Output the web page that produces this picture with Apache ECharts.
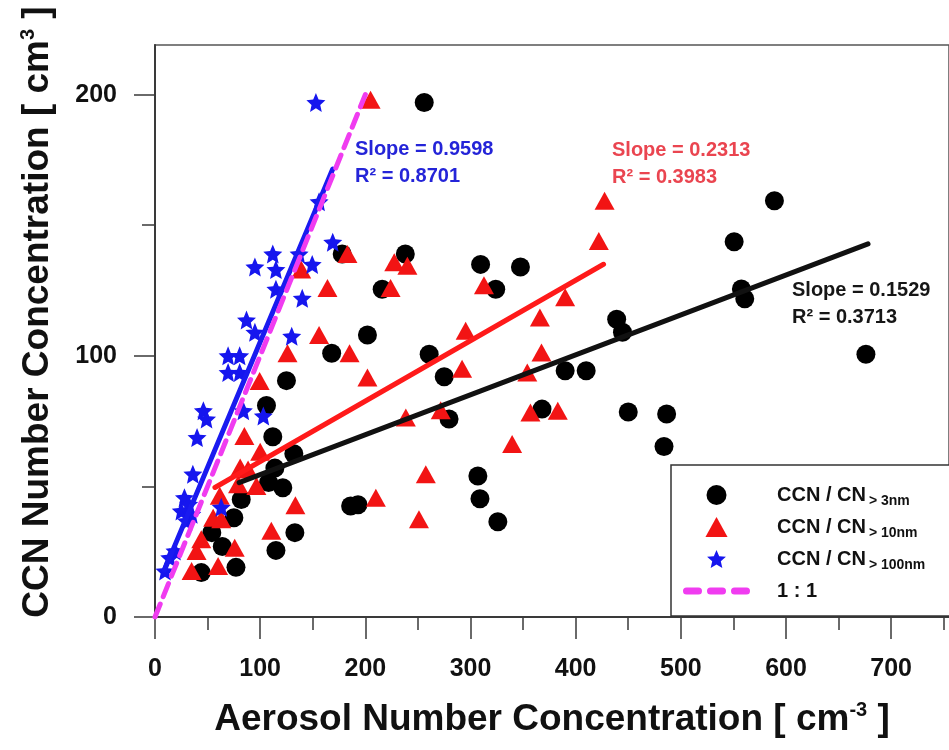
<!DOCTYPE html>
<html>
<head>
<meta charset="utf-8">
<script src="https://cdn.jsdelivr.net/npm/echarts@6/dist/echarts.min.js"></script>
<style>
  html, body { margin: 0; padding: 0; background: #fff; }
  #chart { width: 949px; height: 750px; }
</style>
</head>
<body>
<div id="chart"></div>
<script>
// CCN number concentration against aerosol number concentration
// for three particle size cut-offs, with least-squares fits and a 1:1 line.

// [aerosol, CCN] pairs, CN > 3 nm
const cn3 = [
  [256, 197], [178, 139], [238, 139], [216, 125.5], [202, 108], [168, 101],
  [125, 90.5], [106, 81], [112, 69], [132, 62.5], [114, 57], [108, 51.5],
  [121.5, 49.5], [82, 45], [186, 42.5], [193, 43], [75, 38], [54, 32.3],
  [64, 27], [115, 25.5], [44, 17], [77, 19], [133, 32.3], [309.6, 135],
  [347.5, 134], [324, 125.5], [439, 114], [444.5, 109], [260.7, 100.6],
  [275, 92], [390, 94.3], [410, 94.3], [279.6, 75.8], [368, 79.6],
  [450, 78.5], [486.5, 77.7], [484, 65.3], [307, 54], [309, 45.3],
  [326, 36.5], [589, 159.4], [550.7, 143.7], [557.6, 125.6], [560.8, 121.8],
  [676, 100.6]
];

// [aerosol, CCN] pairs, CN > 10 nm
const cn10 = [
  [205, 198], [427.5, 159.4], [422, 144], [183, 139], [227.5, 135.8],
  [240, 134.5], [139, 133], [224, 126], [164, 126], [156, 108], [126, 101],
  [185, 101], [99.5, 90.4], [202, 91.7], [312.8, 127], [390, 122.4],
  [366, 114.7], [295.4, 109.6], [367.5, 101.3], [292, 95], [354, 93.6],
  [238.5, 76.4], [271.7, 79.2], [357, 78.3], [383, 79], [339.6, 66.2],
  [257.5, 54.7], [251, 37.4], [210, 45.7], [85, 69.3], [100, 63.3],
  [81, 57.2], [88.5, 56.5], [96.4, 50.2], [79, 50.8], [61.6, 46.4],
  [133.5, 42.8], [55.3, 38], [63, 37.4], [110.6, 33], [44, 29.8],
  [75.8, 26.5], [39.5, 25.3], [34.8, 17.6], [60, 19.5]
];

// [aerosol, CCN] pairs, CN > 100 nm
const cn100 = [
  [153, 197], [156, 159], [169, 143.5], [112, 139], [137, 139], [95, 134],
  [115, 133], [149.5, 135], [115, 125.5], [140, 122], [87, 113.7], [95, 109],
  [130, 107.5], [69.5, 100], [80.5, 100], [69.5, 93.6], [80.5, 93.6],
  [46, 79], [49, 75.8], [84, 79], [103, 77], [40, 68.7], [36, 54.7],
  [28, 45.7], [32, 43.2], [25, 40.6], [35, 39.3], [30, 36.8], [63, 42],
  [19, 25.3], [14, 22.7], [9.5, 17.6]
];

// Linear fits, ordered CN>3nm, CN>10nm, CN>100nm
const fitSlopes = [0.1529, 0.2313, 0.9598];
const fitIntercepts = [39.2, 36.4, 9.3];
const fitR2 = [0.3713, 0.3983, 0.8701];
const fitXRanges = [[80, 678], [57, 426.5], [9, 169]];

// 1:1 reference line
const oneToOne = [[0, 0], [200, 200]];

// Axis ticks
const xMajorTicks = [0, 100, 200, 300, 400, 500, 600, 700];
const xMinorTicks = [50, 150, 250, 350, 450, 550, 650, 750];
const yMajorTicks = [0, 100, 200];
const yMinorTicks = [50, 150];

// Legend text
const legendMain = 'CCN / CN';
const legendSubs = ['> 3nm', '> 10nm', '> 100nm'];
const oneToOneName = '1 : 1';

// ---------------------------------------------------------------
const FONT = "'Liberation Sans', Arial, Helvetica, sans-serif";
const BLACK = '#111111';
const RED = '#f21414';
const BLUE = '#1616ee';
const MAGENTA = '#f03cf0';
const FIT_COLORS = ['#111111', '#ff1a1a', '#1a1af0'];
const FIT_TEXT_COLORS = ['#161616', '#ea4550', '#2424d8'];
const FIT_TEXT_POS = [[792, 290], [612, 150], [355, 149]];

// five-point star with a fairly wide body
const STAR = 'path://M50,0 L63.5,31.5 L97.6,34.5 L71.8,57 L79.4,90.5 L50,73 L20.6,90.5 L28.2,57 L2.4,34.5 L36.5,31.5 Z';
const STAR_LEGEND = 'path://M50,-5 L50,-5 M50,96 L50,96 M50,0 L63.5,31.5 L97.6,34.5 L71.8,57 L79.4,90.5 L50,73 L20.6,90.5 L28.2,57 L2.4,34.5 L36.5,31.5 Z';
const TRI_LEGEND = 'path://M10.5,0 L21,19 L0,19 Z';
const DASH_LEGEND = 'path://M3.5,0 L15.5,0 A3.5,3.5 0 0 1 15.5,7 L3.5,7 A3.5,3.5 0 0 1 3.5,0 Z ' +
  'M27.5,0 L39.5,0 A3.5,3.5 0 0 1 39.5,7 L27.5,7 A3.5,3.5 0 0 1 27.5,0 Z ' +
  'M51.5,0 L63.5,0 A3.5,3.5 0 0 1 63.5,7 L51.5,7 A3.5,3.5 0 0 1 51.5,0 Z';

const seriesNames = legendSubs.map(s => legendMain + ' ' + s);

const fitLines = fitXRanges.map((r, i) => r.map(x => [x, fitIntercepts[i] + fitSlopes[i] * x]));

const gridBox = { left: 155, top: 45, right: -4, bottom: 133 };
const X_MAX = 755, Y_MAX = 219;

const axisColor = '#3a3a3a';

const chart = echarts.init(document.getElementById('chart'), null, { renderer: 'canvas' });

const option = {
  backgroundColor: '#ffffff',
  animation: false,
  grid: [
    Object.assign({ show: true, borderColor: '#555', borderWidth: 1.5, containLabel: false }, gridBox),
    Object.assign({ show: false, containLabel: false }, gridBox)
  ],
  xAxis: [
    {
      type: 'value', gridIndex: 0, min: 0, max: X_MAX, position: 'bottom',
      axisLine: { show: true, onZero: false, lineStyle: { color: axisColor, width: 2 } },
      axisTick: { show: true, inside: false, length: 22, customValues: xMajorTicks,
                  lineStyle: { color: axisColor, width: 1.5 } },
      axisLabel: { show: true, customValues: xMajorTicks, margin: 40, fontSize: 25,
                   fontWeight: 'bold', color: BLACK, fontFamily: FONT },
      splitLine: { show: false },
      name: '{t|Aerosol Number Concentration [ cm}{u|-3}{t| ]}',
      nameLocation: 'middle', nameGap: 83,
      nameTextStyle: {
        rich: {
          t: { fontSize: 37, fontWeight: 'bold', fontFamily: FONT, color: BLACK, lineHeight: 40 },
          u: { fontSize: 20, fontWeight: 'bold', fontFamily: FONT, color: BLACK, lineHeight: 20, padding: [0, 0, 20, 0] }
        }
      }
    },
    {
      type: 'value', gridIndex: 1, min: 0, max: X_MAX, position: 'bottom',
      axisLine: { show: false, onZero: false },
      axisTick: { show: true, inside: false, length: 13, customValues: xMinorTicks,
                  lineStyle: { color: axisColor, width: 1.5 } },
      axisLabel: { show: false },
      splitLine: { show: false }
    }
  ],
  yAxis: [
    {
      type: 'value', gridIndex: 0, min: 0, max: Y_MAX, position: 'left',
      axisLine: { show: true, onZero: false, lineStyle: { color: axisColor, width: 2 } },
      axisTick: { show: true, inside: false, length: 21, customValues: yMajorTicks,
                  lineStyle: { color: axisColor, width: 1.5 } },
      axisLabel: { show: true, customValues: yMajorTicks, margin: 38, fontSize: 25,
                   fontWeight: 'bold', color: BLACK, fontFamily: FONT },
      splitLine: { show: false },
      name: '{t|CCN Number Concentration [ cm}{u|3}{t| ]}',
      nameLocation: 'middle', nameGap: 97, nameRotate: 90,
      nameTextStyle: {
        padding: [0, 0, 0, 38],
        rich: {
          t: { fontSize: 37, fontWeight: 'bold', fontFamily: FONT, color: BLACK, lineHeight: 40 },
          u: { fontSize: 20, fontWeight: 'bold', fontFamily: FONT, color: BLACK, lineHeight: 20, padding: [0, 0, 20, 0] }
        }
      }
    },
    {
      type: 'value', gridIndex: 1, min: 0, max: Y_MAX, position: 'left',
      axisLine: { show: false, onZero: false },
      axisTick: { show: true, inside: false, length: 13, customValues: yMinorTicks,
                  lineStyle: { color: axisColor, width: 1.5 } },
      axisLabel: { show: false },
      splitLine: { show: false }
    }
  ],
  legend: {
    orient: 'vertical',
    left: 671, top: 465,
    padding: [17, 30, 12, 12],
    itemWidth: 67, itemHeight: 20, itemGap: 6,
    backgroundColor: '#ffffff',
    borderColor: '#333', borderWidth: 1.5, borderRadius: 0,
    selectedMode: false,
    data: [
      { name: seriesNames[0], icon: 'circle' },
      { name: seriesNames[1], icon: TRI_LEGEND },
      { name: seriesNames[2], icon: STAR_LEGEND },
      { name: oneToOneName, icon: DASH_LEGEND, itemStyle: { borderWidth: 0 } }
    ],
    formatter: function (name) {
      const i = seriesNames.indexOf(name);
      if (i < 0) return '{m|' + name + '}{s| }';
      return '{m|' + legendMain + '}{s|' + legendSubs[i] + '}';
    },
    textStyle: {
      color: BLACK, fontFamily: FONT, fontWeight: 'bold', fontSize: 20,
      rich: {
        m: { fontSize: 20, fontWeight: 'bold', fontFamily: FONT, color: BLACK, lineHeight: 24, padding: [0, 0, 0, 22] },
        s: { fontSize: 14, fontWeight: 'bold', fontFamily: FONT, color: BLACK, lineHeight: 14, padding: [12, 0, 0, 3] }
      }
    }
  },
  graphic: fitSlopes.map((s, i) => ({
    type: 'group',
    silent: true,
    children: [
      { type: 'text', x: FIT_TEXT_POS[i][0], y: FIT_TEXT_POS[i][1],
        style: { text: 'Slope = ' + s.toFixed(4), fill: FIT_TEXT_COLORS[i],
                 font: 'bold 20px ' + FONT, verticalAlign: 'middle' } },
      { type: 'text', x: FIT_TEXT_POS[i][0], y: FIT_TEXT_POS[i][1] + 27,
        style: { text: 'R\u00B2 = ' + fitR2[i].toFixed(4), fill: FIT_TEXT_COLORS[i],
                 font: 'bold 20px ' + FONT, verticalAlign: 'middle' } }
    ]
  })),
  series: [
    {
      name: seriesNames[0], type: 'scatter', xAxisIndex: 0, yAxisIndex: 0,
      data: cn3, symbol: 'circle', symbolSize: 19,
      itemStyle: { color: '#000000', opacity: 1 }
    },
    {
      name: seriesNames[1], type: 'scatter', xAxisIndex: 0, yAxisIndex: 0,
      data: cn10, symbol: 'triangle', symbolSize: [20, 18],
      itemStyle: { color: RED, opacity: 1 }
    },
    {
      name: seriesNames[2], type: 'scatter', xAxisIndex: 0, yAxisIndex: 0,
      data: cn100, symbol: STAR, symbolSize: 19,
      itemStyle: { color: BLUE, opacity: 1 }
    },
    ...fitLines.map((pts, i) => ({
      name: 'fit' + i, type: 'line', xAxisIndex: 0, yAxisIndex: 0,
      data: pts, symbol: 'none', silent: true,
      lineStyle: { color: FIT_COLORS[i], width: 5, cap: 'round' },
      itemStyle: { color: FIT_COLORS[i] }
    })),
    {
      name: oneToOneName, type: 'line', xAxisIndex: 0, yAxisIndex: 0,
      data: oneToOne, symbol: 'none', silent: true,
      lineStyle: { color: MAGENTA, width: 5, type: [14, 8], cap: 'round' },
      itemStyle: { color: MAGENTA }
    }
  ]
};

chart.setOption(option);
</script>
</body>
</html>
